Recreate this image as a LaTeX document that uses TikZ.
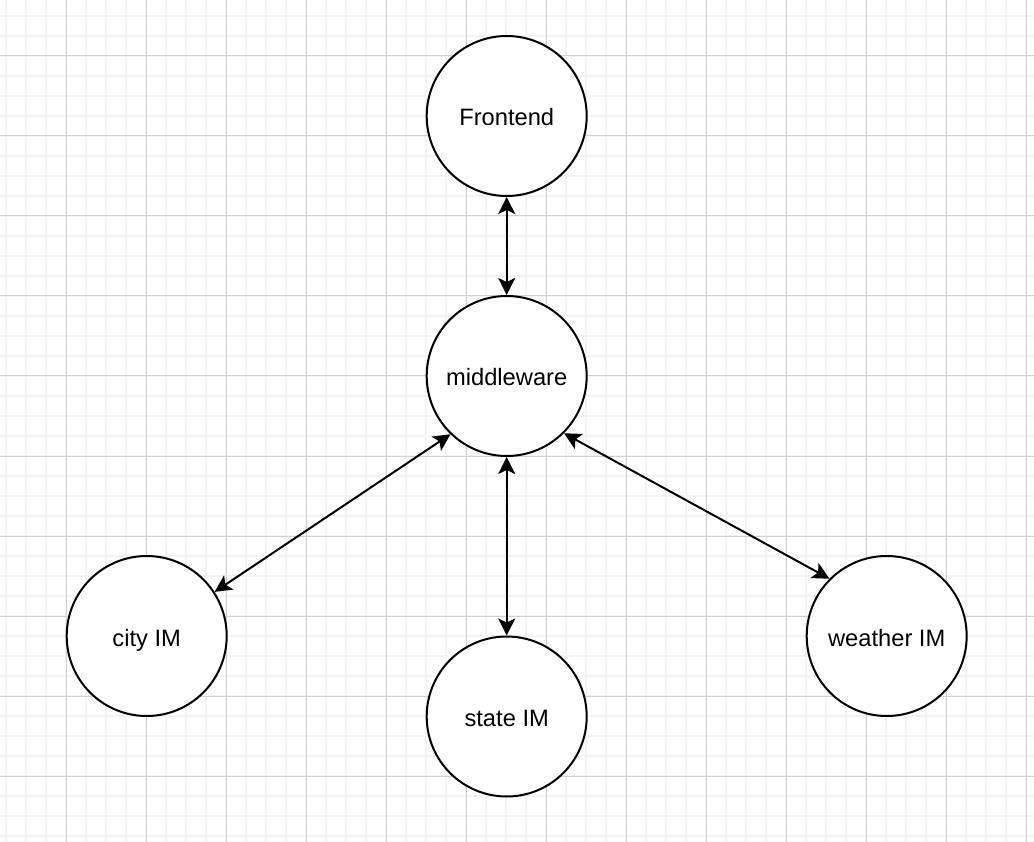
\documentclass[tikz,border=0pt]{standalone}
\usepackage{fontspec}
\setmainfont{Liberation Sans}
\usetikzlibrary{arrows.meta}
\definecolor{minorgrid}{RGB}{243,243,243}
\definecolor{majorgrid}{RGB}{208,208,208}
\begin{document}
\begin{tikzpicture}[x=1pt,y=-1pt,
  state/.style={circle, draw=black, line width=2pt, fill=white, minimum size=160pt, inner sep=0pt, text height=24pt, text depth=4pt, font=\fontsize{23.7}{28}\selectfont},
  link/.style={line width=2pt, {Stealth[length=17pt,width=17pt,inset=4pt]}-{Stealth[length=17pt,width=17pt,inset=4pt]}}
]
\useasboundingbox (0,0) rectangle (1034,842);
\fill[white] (0,0) rectangle (1034,842);
% minor grid
\foreach \x in {0,...,51} \draw[minorgrid, line width=1.5pt] (6+20*\x,0) -- (6+20*\x,842);
\foreach \y in {0,...,41} \draw[minorgrid, line width=1.5pt] (0,16+20*\y) -- (1034,16+20*\y);
% major grid
\foreach \x in {0,...,12} \draw[majorgrid, line width=1pt] (66+80*\x,0) -- (66+80*\x,842);
\foreach \y in {0,...,9} \draw[majorgrid, line width=1pt] (0,56+80*\y) -- (1034,56+80*\y);

\node[state] (front) at (506.7,116) {Frontend};
\node[state] (mid) at (506.7,376) {middleware};
\node[state] (city) at (146.7,636) {city IM};
\node[state] (stateim) at (506.7,716.5) {state IM};
\node[state] (weather) at (886.7,636) {weather IM};

\draw[link] (front.south) -- (mid.north);
\draw[link] (mid.226) -- (city.33);
\draw[link] (mid.south) -- (stateim.north);
\draw[link] (mid.315) -- (weather.135);
\end{tikzpicture}
\end{document}
